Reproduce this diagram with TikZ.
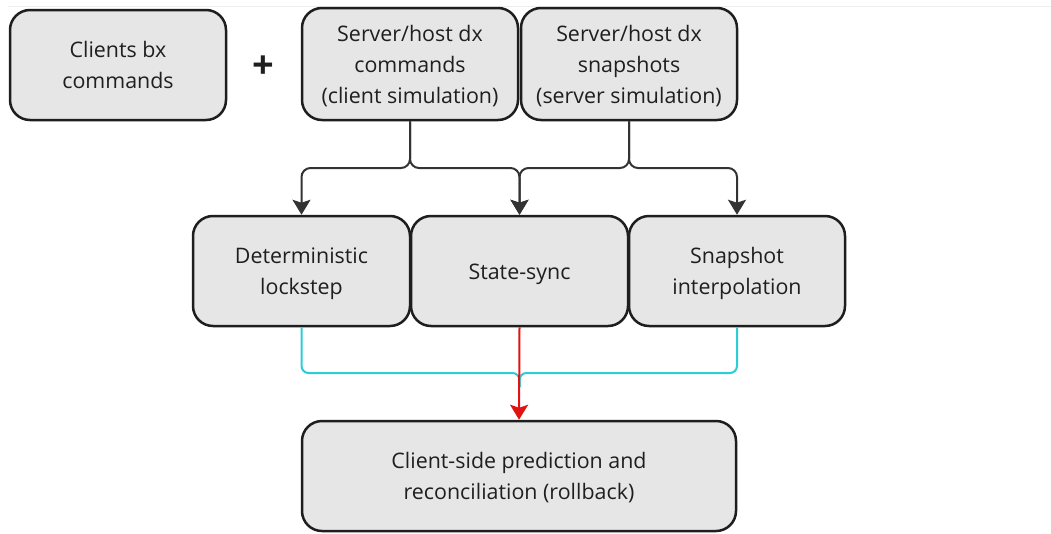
\documentclass[tikz,border=0pt]{standalone}
\usepackage{fontspec}
\setmainfont{Open Sans}
\usetikzlibrary{arrows.meta}
\definecolor{boxfill}{HTML}{E6E6E6}
\definecolor{boxline}{HTML}{1E1E1E}
\definecolor{connline}{HTML}{333333}
\definecolor{tealline}{HTML}{2CCED6}
\definecolor{redline}{HTML}{E01212}
\tikzset{
  card/.style={draw=boxline, fill=boxfill, line width=2.5pt, rounded corners=20pt,
    align=center, inner sep=0pt, font=\fontsize{21.4}{30.7}\selectfont, text=black!88,
    text depth=7.05pt},
  % text block heights for one, two and three lines of 30.7pt
  lines1/.style={card, text height=23.65pt},
  lines2/.style={card, text height=54.35pt},
  lines3/.style={card, text height=85.05pt},
  conn/.style={draw=connline, line width=2pt, rounded corners=9pt,
    -{Stealth[width=18pt,length=15pt,inset=3pt]}},
  tealpath/.style={draw=tealline, line width=2pt, rounded corners=7pt},
  redarrow/.style={draw=redline, line width=2pt,
    -{Stealth[width=18pt,length=15pt,inset=3pt]}},
}
\begin{document}
\begin{tikzpicture}[x=1pt,y=-1pt]
\useasboundingbox (0,0) rectangle (1051,533);
\fill[white] (0,0) rectangle (1051,533);
\draw[black!7, line width=1pt] (8,6) -- (1051,6);

% top row: inputs
\node[lines2, minimum width=216pt, minimum height=110pt] (A) at (118,65) {Clients bx\\commands};
\node[font=\bfseries\fontsize{38}{40}\selectfont, text=black!88] (plus) at (263.5,67.5) {+};
\node[lines3, minimum width=216pt, minimum height=112pt] (B) at (410,64) {Server/host dx\\commands\\(client simulation)};
\node[lines3, minimum width=216pt, minimum height=112pt] (C) at (629,64) {Server/host dx\\snapshots\\(server simulation)};

% middle row: sync models
\node[lines2, minimum width=217pt, minimum height=110pt] (D) at (301.5,271) {Deterministic\\lockstep};
\node[lines1, minimum width=217pt, minimum height=110pt] (E) at (519.5,271) {State-sync};
\node[lines2, minimum width=216pt, minimum height=110pt] (F) at (737,271) {Snapshot\\interpolation};

% bottom: prediction
\node[lines2, minimum width=434pt, minimum height=110pt] (G) at (519,476) {Client-side prediction and\\reconciliation (rollback)};

% fan-out from the inputs
\draw[conn] (B.south) |- (D.north |- 0,168) -- (D.north);
\draw[conn] (B.south) |- (E.north |- 0,168) -- (E.north);
\draw[conn] (C.south) |- (E.north |- 0,168) -- (E.north);
\draw[conn] (C.south) |- (F.north |- 0,168) -- (F.north);

% merge into prediction
\draw[tealpath] (D.south) |- (E.south |- 0,373) -- ++(0,14);
\draw[tealpath] (F.south) |- (E.south |- 0,373) -- ++(0,14);
\draw[redarrow] (E.south) -- (G.north);
\end{tikzpicture}
\end{document}
